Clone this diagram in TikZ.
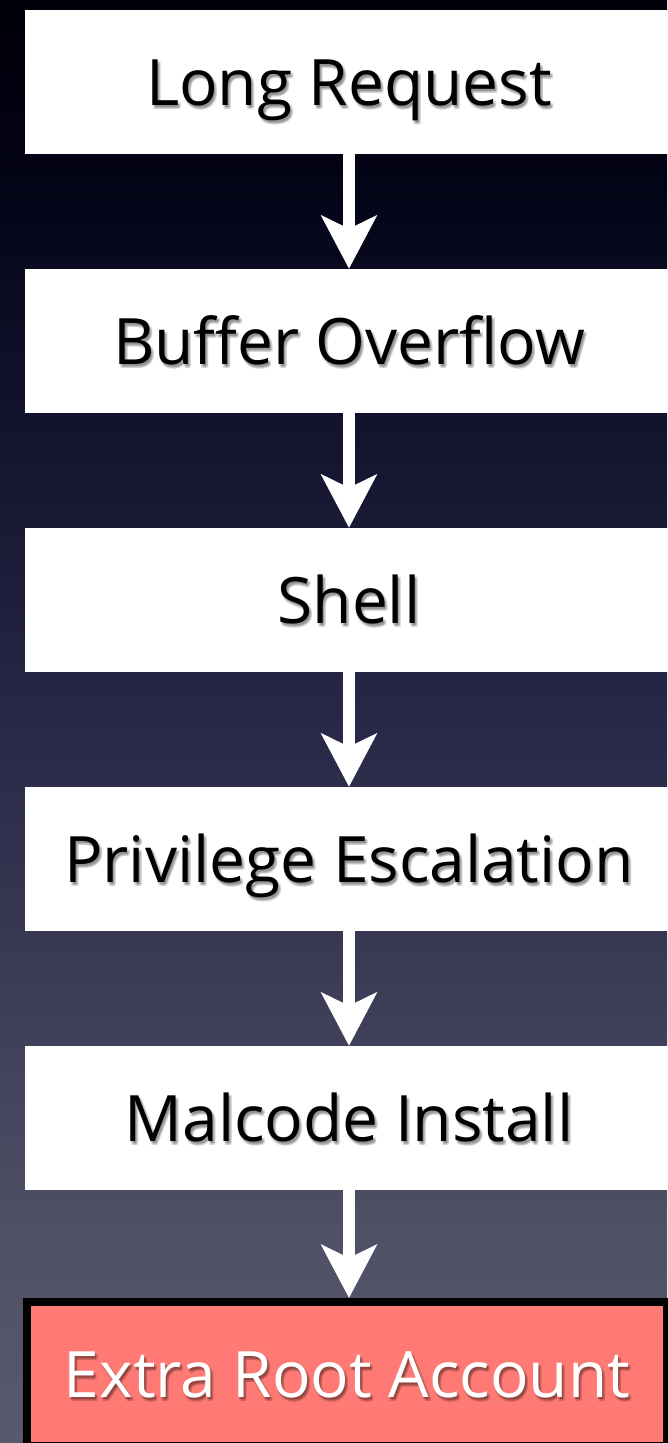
\documentclass[tikz,border=0pt]{standalone}
\usepackage{fontspec}
\setmainfont{Open Sans}[Ligatures={NoCommon}]
\usetikzlibrary{arrows.meta}
\definecolor{bgA}{RGB}{0,0,10}
\definecolor{bgB}{RGB}{2,2,20}
\definecolor{bgC}{RGB}{22,22,50}
\definecolor{bgD}{RGB}{40,40,72}
\definecolor{bgE}{RGB}{80,80,102}
\definecolor{bgF}{RGB}{88,89,110}
\definecolor{alertred}{RGB}{255,122,116}
% backdrop gradient: the drawn area spans 25bp (bottom) to 75bp (top)
\pgfdeclareverticalshading{backdrop}{100bp}{%
  color(0bp)=(bgF); color(25bp)=(bgF); color(32bp)=(bgE); color(49.7bp)=(bgD);
  color(58.7bp)=(bgC); color(69.8bp)=(bgB); color(75bp)=(bgA); color(100bp)=(bgA)}
\tikzset{
  stepbox/.style={rectangle, fill=white, minimum width=648pt, minimum height=144pt,
    inner sep=0pt},
  alertbox/.style={stepbox, fill=alertred, draw=black, line width=8pt,
    minimum width=640pt},
  steptext/.style={inner sep=0pt, anchor=base, font=\fontsize{64}{66}\selectfont},
  textshadow/.style={steptext, text=black, text opacity=0.10},
  flow/.style={draw=white, line width=12pt,
    -{Stealth[length=53pt, width=55pt, inset=13pt, fill=white]}}
}
\colorlet{stepboxtext}{black}
\colorlet{alertboxtext}{white}
% one step of the chain: box, a soft drop shadow under the label, the label
\newcommand\flowstep[5]{%
  \node[#2] (#1) at (#3,#4) {};
  \foreach \sx/\sy in {1/2, 2/3, 3/4, 3/2, 1/4}
    \node[textshadow] at ([shift={(\sx,23+\sy)}]#1.center) {#5};
  \node[steptext, text=#2text] (#1-label) at ([yshift=-23pt]#1.center) {#5};
}
\begin{document}
\begin{tikzpicture}[x=1pt, y=-1pt]
  \shade[shading=backdrop] (0,0) rectangle (667,1443);
  \useasboundingbox (0,0) rectangle (667,1443);

  \flowstep{b1}{stepbox}{349}{82}{Long Request}
  \flowstep{b2}{stepbox}{349}{341}{Buffer Overflow}
  \flowstep{b3}{stepbox}{349}{600}{Shell}
  \flowstep{b4}{stepbox}{349}{859}{Privilege Escalation}
  \flowstep{b5}{stepbox}{349}{1118}{Malcode Install}
  \flowstep{b6}{alertbox}{347}{1374}{Extra Root Account}

  \draw[flow] (b1.south) -- (b2.north);
  \draw[flow] (b2.south) -- (b3.north);
  \draw[flow] (b3.south) -- (b4.north);
  \draw[flow] (b4.south) -- (b5.north);
  \draw[flow] (b5.south) -- (b5.south |- b6.north);
\end{tikzpicture}
\end{document}
